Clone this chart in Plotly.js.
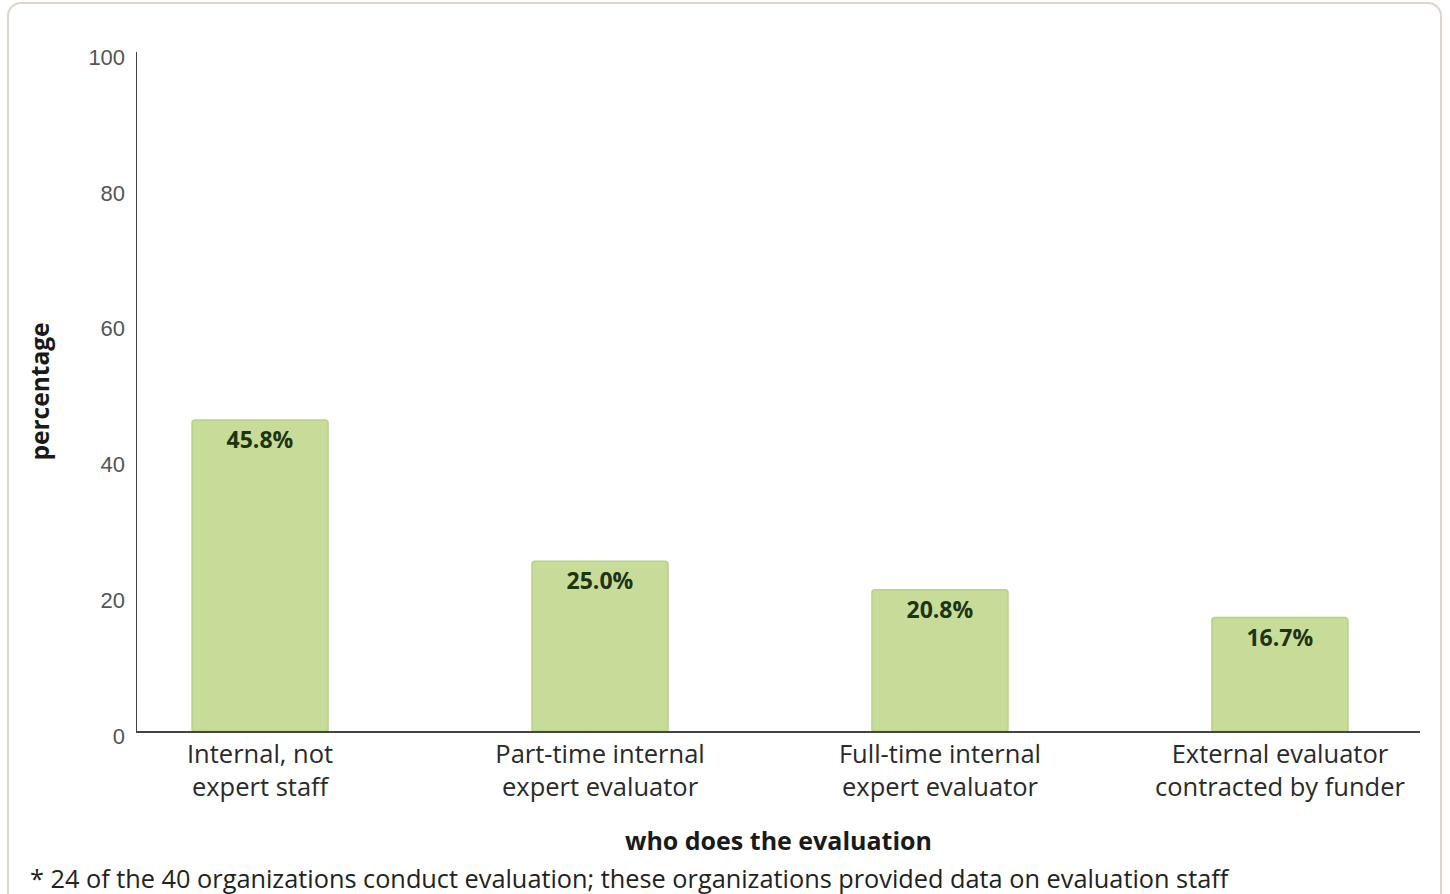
<!DOCTYPE html>
<html>
<head>
<meta charset="utf-8">
<script src="https://cdn.plot.ly/plotly-3.0.1.min.js"></script>
<style>
  html, body { margin: 0; padding: 0; background: #fff; overflow: hidden; }
  #wrap { position: relative; width: 1450px; height: 894px; }
  #frame { position: absolute; left: 7px; top: 2px; width: 1431px; height: 910px;
           border: 2px solid #dcd7c8; border-radius: 14px; pointer-events: none; }
  #chart { position: absolute; left: 0; top: 0; width: 1450px; height: 894px; }
</style>
</head>
<body>
<div id="wrap">
  <div id="chart"></div>
  <div id="frame"></div>
</div>
<script>
const categories = [
  "Internal, not<br>expert staff",
  "Part-time internal<br>expert evaluator",
  "Full-time internal<br>expert evaluator",
  "External evaluator<br>contracted by funder"
];
const percentages = [45.8, 25.0, 20.8, 16.7];
const yTicks = [0, 20, 40, 60, 80, 100];
const xTitle = "who does the evaluation";
const yTitle = "percentage";
const footnote = "* 24 of the 40 organizations conduct evaluation; these organizations provided data on evaluation staff";

const FONT = "Open Sans, sans-serif";

const trace = {
  type: "bar",
  x: categories,
  y: percentages,
  width: 0.4,
  marker: { color: "#c7dc98", line: { color: "#b8d087", width: 1.5 }, cornerradius: 3 },
  texttemplate: "%{y:.1f}%",
  textposition: "inside",
  insidetextanchor: "end",
  textangle: 0,
  textfont: { family: FONT, size: 23, color: "#1e3410", weight: "bold" },
  hoverinfo: "skip"
};

const layout = {
  width: 1450, height: 894,
  margin: { l: 137, r: 30, t: 52, b: 163 },
  paper_bgcolor: "rgba(0,0,0,0)",
  plot_bgcolor: "rgba(0,0,0,0)",
  showlegend: false,
  font: { family: FONT, color: "#222" },
  xaxis: {
    type: "category",
    range: [-0.362, 3.412],
    showgrid: false, zeroline: false,
    showline: true, linecolor: "#444", linewidth: 1.5,
    ticks: "",
    tickfont: { family: FONT, size: 25.5, color: "#2a2a2a" },
    title: { text: xTitle, font: { family: FONT, size: 25, color: "#1a1a1a", weight: "bold" }, standoff: 30 },
    automargin: false
  },
  yaxis: {
    range: [0, 100],
    tickvals: yTicks,
    ticktext: yTicks.map(String),
    showgrid: false, zeroline: false,
    showline: true, linecolor: "#444", linewidth: 1.5,
    ticks: "",
    ticklabelstandoff: 6,
    ticklabelshift: 5,
    tickfont: { family: "Liberation Sans, Arial, sans-serif", size: 22, color: "#555" },
    title: { text: yTitle, font: { family: FONT, size: 24.5, color: "#1a1a1a", weight: "bold" }, standoff: 32 },
    automargin: false
  },
  annotations: [{
    text: footnote,
    xref: "paper", yref: "paper",
    x: (28 - 137) / 1283, y: (731 - 878) / 679,
    xanchor: "left", yanchor: "middle",
    showarrow: false,
    font: { family: FONT, size: 25.3, color: "#222" }
  }]
};

Plotly.newPlot("chart", [trace], layout, { staticPlot: true, displayModeBar: false });
</script>
</body>
</html>
